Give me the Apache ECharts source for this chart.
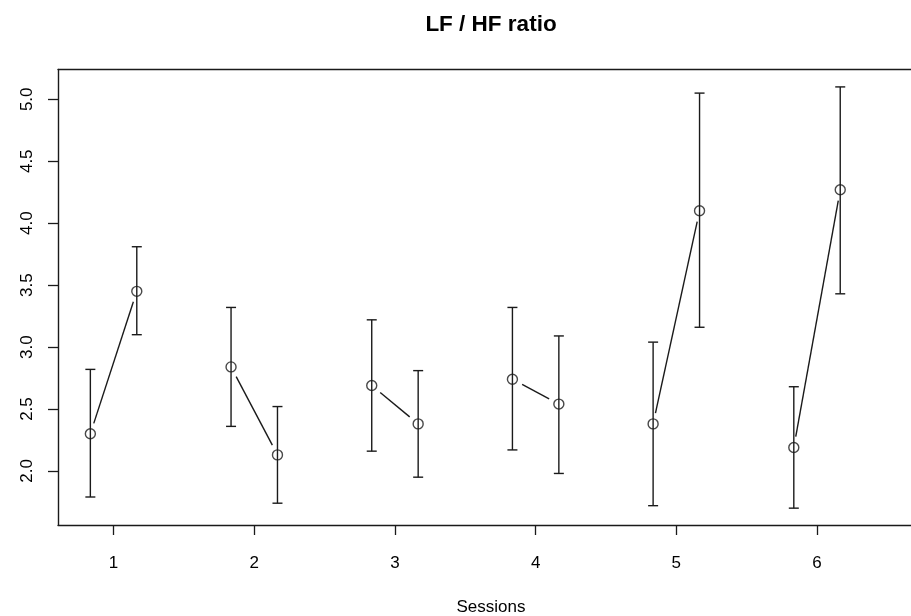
<!DOCTYPE html>
<html>
<head>
<meta charset="utf-8">
<script src="https://cdn.jsdelivr.net/npm/echarts@6/dist/echarts.min.js"></script>
<style>html,body{margin:0;padding:0;background:#fff}#c{width:911px;height:616px}</style>
</head>
<body>
<div id="c"></div>
<script>
// ---- data ----
var sessions = [1, 2, 3, 4, 5, 6];
var preMean  = [2.30, 2.84, 2.69, 2.74, 2.38, 2.19];
var preLow   = [1.79, 2.36, 2.16, 2.17, 1.72, 1.70];
var preHigh  = [2.82, 3.32, 3.22, 3.32, 3.04, 2.68];
var postMean = [3.45, 2.13, 2.38, 2.54, 4.10, 4.27];
var postLow  = [3.10, 1.74, 1.95, 1.98, 3.16, 3.43];
var postHigh = [3.81, 2.52, 2.81, 3.09, 5.05, 5.10];
var yTicks   = [2.0, 2.5, 3.0, 3.5, 4.0, 4.5, 5.0];
var xTicks   = [1, 2, 3, 4, 5, 6];

var OFF = 0.165;
var INK = '#1a1a1a';
var FONT = 'Liberation Sans, Arial, Helvetica, sans-serif';

var preBars = sessions.map(function (s, i) { return [s - OFF, preLow[i], preHigh[i]]; });
var postBars = sessions.map(function (s, i) { return [s + OFF, postLow[i], postHigh[i]]; });
var prePts = sessions.map(function (s, i) { return [s - OFF, preMean[i]]; });
var postPts = sessions.map(function (s, i) { return [s + OFF, postMean[i]]; });
var links = sessions.map(function (s, i) { return [s - OFF, preMean[i], s + OFF, postMean[i]]; });

function renderBar(params, api) {
  var x = api.value(0);
  var p1 = api.coord([x, api.value(1)]);
  var p2 = api.coord([x, api.value(2)]);
  var hw = 5;
  var st = { stroke: INK, lineWidth: 1.4 };
  return {
    type: 'group',
    children: [
      { type: 'line', shape: { x1: p1[0], y1: p1[1], x2: p2[0], y2: p2[1] }, style: st },
      { type: 'line', shape: { x1: p1[0] - hw, y1: p1[1], x2: p1[0] + hw, y2: p1[1] }, style: st },
      { type: 'line', shape: { x1: p2[0] - hw, y1: p2[1], x2: p2[0] + hw, y2: p2[1] }, style: st }
    ]
  };
}

function renderLink(params, api) {
  var a = api.coord([api.value(0), api.value(1)]);
  var b = api.coord([api.value(2), api.value(3)]);
  var dx = b[0] - a[0], dy = b[1] - a[1];
  var len = Math.sqrt(dx * dx + dy * dy);
  var gap = 11;
  if (len <= 2 * gap) return null;
  var ux = dx / len, uy = dy / len;
  return {
    type: 'line',
    shape: { x1: a[0] + ux * gap, y1: a[1] + uy * gap, x2: b[0] - ux * gap, y2: b[1] - uy * gap },
    style: { stroke: INK, lineWidth: 1.4 }
  };
}

var XMIN = 0.605, XMAX = 6.668;

var chart = echarts.init(document.getElementById('c'), null, { renderer: 'canvas' });
chart.setOption({
  animation: false,
  backgroundColor: '#fff',
  title: {
    text: 'LF / HF ratio',
    left: 486, top: 8, textAlign: 'center',
    textStyle: { fontFamily: FONT, fontSize: 22.5, fontWeight: 'bold', color: '#000' }
  },
  grid: {
    left: 58, right: 0, top: 69.5, bottom: 91, show: false,
    containLabel: false, outerBoundsMode: 'none'
  },
  xAxis: [{
    type: 'value', min: XMIN, max: XMAX, position: 'bottom',
    name: 'Sessions', nameLocation: 'middle', nameGap: 74,
    nameTextStyle: { fontFamily: FONT, fontSize: 17, color: '#000', padding: [0, 0, 0, 13] },
    axisLine: { show: true, onZero: false, lineStyle: { color: INK, width: 1.4 } },
    splitLine: { show: false },
    axisTick: { show: true, length: 10, inside: false, customValues: xTicks, lineStyle: { color: INK, width: 1.3 } },
    axisLabel: { customValues: xTicks, margin: 30, fontFamily: FONT, fontSize: 17, color: '#000' }
  }, {
    type: 'value', min: XMIN, max: XMAX, position: 'top',
    axisLine: { show: true, onZero: false, lineStyle: { color: INK, width: 1.4 } },
    axisTick: { show: false }, axisLabel: { show: false }, splitLine: { show: false }
  }],
  yAxis: {
    type: 'value', min: 1.564, max: 5.2405,
    axisLine: { show: true, onZero: false, lineStyle: { color: INK, width: 1.4 } },
    splitLine: { show: false },
    axisTick: { show: true, length: 10, inside: false, customValues: yTicks, lineStyle: { color: INK, width: 1.3 } },
    axisLabel: {
      customValues: yTicks, rotate: 90, margin: 22,
      fontFamily: FONT, fontSize: 17, color: '#000',
      formatter: function (v) { return v.toFixed(1); }
    }
  },
  series: [
    { type: 'custom', renderItem: renderBar, data: preBars, encode: { x: 0, y: [1, 2] }, silent: true },
    { type: 'custom', renderItem: renderBar, data: postBars, encode: { x: 0, y: [1, 2] }, silent: true },
    { type: 'custom', renderItem: renderLink, data: links, encode: { x: [0, 2], y: [1, 3] }, silent: true },
    { type: 'scatter', data: prePts, symbol: 'circle', symbolSize: 10,
      itemStyle: { color: 'transparent', borderColor: INK, borderWidth: 1.4 }, silent: true },
    { type: 'scatter', data: postPts, symbol: 'circle', symbolSize: 10,
      itemStyle: { color: 'transparent', borderColor: INK, borderWidth: 1.4 }, silent: true }
  ]
});
</script>
</body>
</html>
